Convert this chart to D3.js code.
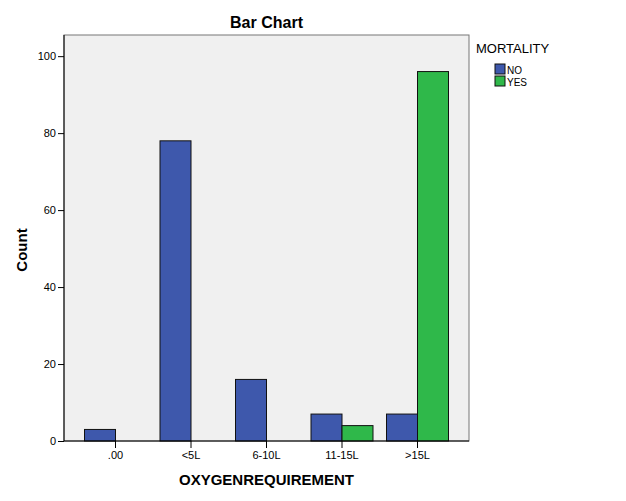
<!DOCTYPE html>
<html>
<head>
<meta charset="utf-8">
<script src="https://cdn.jsdelivr.net/npm/d3@7"></script>
<style>
  body { margin: 0; background: #fff; }
  text { font-family: Arial, "Liberation Sans", sans-serif; }
</style>
</head>
<body>
<div id="chart"></div>
<script>
const categories = [".00", "<5L", "6-10L", "11-15L", ">15L"];
const groups = ["NO", "YES"];
const noValues = [3, 78, 16, 7, 7];
const yesValues = [0, 0, 0, 4, 96];
const yTicks = [0, 20, 40, 60, 80, 100];

const width = 626, height = 501;
const plotLeft = 64, plotRight = 469, plotTop = 35, plotBottom = 441;

const svg = d3.select("#chart").append("svg")
    .attr("width", width)
    .attr("height", height);

svg.append("rect")
    .attr("x", plotLeft).attr("y", plotTop)
    .attr("width", plotRight - plotLeft).attr("height", plotBottom - plotTop)
    .attr("fill", "#f0f0f0")
    .attr("stroke", "#777")
    .attr("stroke-width", 1);

const x = d3.scaleBand()
    .domain(categories)
    .range([plotLeft + 13.75, plotRight - 13.75]);

const xSub = d3.scaleBand()
    .domain(groups)
    .range([x.bandwidth() / 2 - 31, x.bandwidth() / 2 + 31]);

const y = d3.scaleLinear()
    .domain([0, 105.5])
    .range([plotBottom, plotTop]);

const color = d3.scaleOrdinal()
    .domain(groups)
    .range(["#3e58ac", "#2fb84a"]);

const rows = categories.map((c, i) => ({ cat: c, NO: noValues[i], YES: yesValues[i] }));

const bars = svg.append("g")
    .selectAll("g")
    .data(rows)
    .join("g")
    .attr("transform", d => `translate(${x(d.cat)},0)`);

bars.selectAll("rect")
    .data(d => groups.map(g => ({ g, v: d[g] })).filter(e => e.v > 0))
    .join("rect")
    .attr("x", d => xSub(d.g))
    .attr("y", d => y(d.v))
    .attr("width", xSub.bandwidth())
    .attr("height", d => plotBottom - y(d.v))
    .attr("fill", d => color(d.g))
    .attr("stroke", "#111")
    .attr("stroke-width", 1);

// axes
const yAxis = svg.append("g")
    .attr("transform", `translate(${plotLeft},0)`)
    .call(d3.axisLeft(y).tickValues(yTicks).tickSize(6).tickPadding(2));
yAxis.select(".domain").remove();
yAxis.selectAll("line").attr("stroke", "#000");
yAxis.selectAll("text").attr("font-size", 11).attr("fill", "#000");

const xAxis = svg.append("g")
    .attr("transform", `translate(0,${plotBottom})`)
    .call(d3.axisBottom(x).tickSize(7).tickPadding(3));
xAxis.select(".domain").remove();
xAxis.selectAll("line").attr("stroke", "#000");
xAxis.selectAll("text").attr("font-size", 11).attr("fill", "#000");

svg.append("line")
    .attr("x1", plotLeft).attr("x2", plotRight)
    .attr("y1", plotBottom).attr("y2", plotBottom)
    .attr("stroke", "#000");
svg.append("line")
    .attr("x1", plotLeft).attr("x2", plotLeft)
    .attr("y1", plotTop).attr("y2", plotBottom)
    .attr("stroke", "#000");

// titles
svg.append("text")
    .attr("x", (plotLeft + plotRight) / 2).attr("y", 28)
    .attr("text-anchor", "middle")
    .attr("font-size", 16).attr("font-weight", "bold")
    .text("Bar Chart");

svg.append("text")
    .attr("x", (plotLeft + plotRight) / 2).attr("y", 485)
    .attr("text-anchor", "middle")
    .attr("font-size", 15).attr("font-weight", "bold")
    .text("OXYGENREQUIREMENT");

svg.append("text")
    .attr("transform", `translate(27,${(plotTop + plotBottom) / 2 + 12}) rotate(-90)`)
    .attr("text-anchor", "middle")
    .attr("font-size", 15).attr("font-weight", "bold")
    .text("Count");

// legend
const legend = svg.append("g");
legend.append("text")
    .attr("x", 476).attr("y", 53)
    .attr("font-size", 13)
    .text("MORTALITY");

const item = legend.selectAll("g.item")
    .data(groups)
    .join("g")
    .attr("class", "item")
    .attr("transform", (d, i) => `translate(495,${64 + i * 12})`);
item.append("rect")
    .attr("width", 10).attr("height", 10)
    .attr("fill", d => color(d))
    .attr("stroke", "#111");
item.append("text")
    .attr("x", 12).attr("y", 9.5)
    .attr("font-size", 10)
    .text(d => d);
</script>
</body>
</html>
